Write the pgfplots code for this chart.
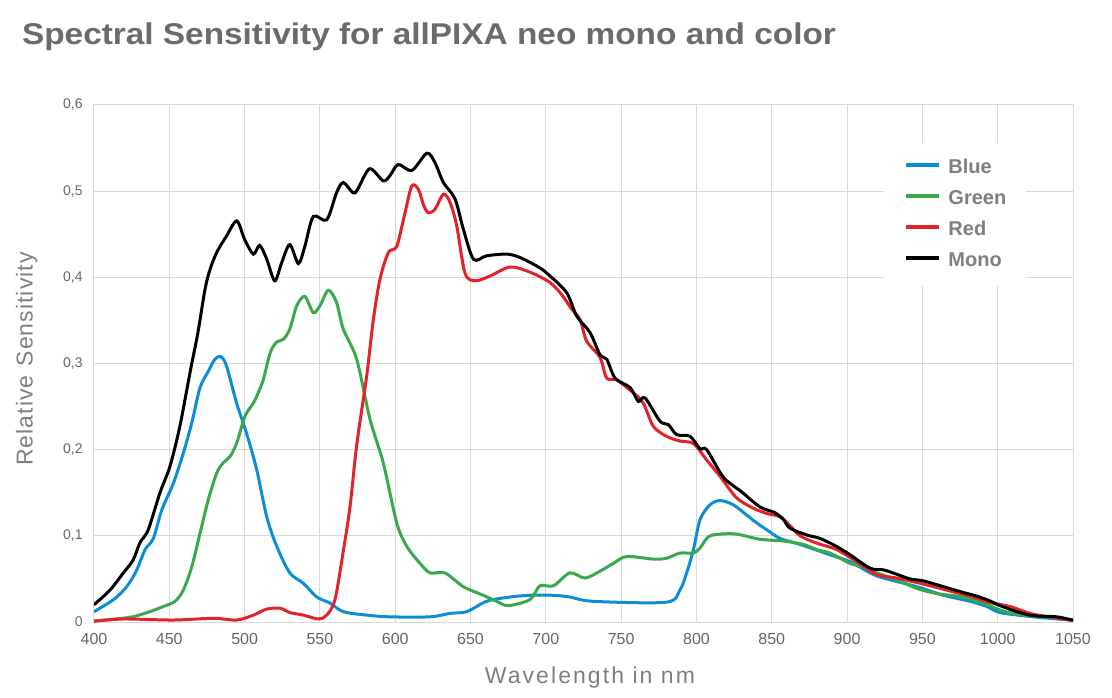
\documentclass[border=0pt]{standalone}
\usepackage{fontspec}
\setmainfont{Liberation Sans}
\newfontfamily\xlabfont[LetterSpace=9]{Liberation Sans}
\newfontfamily\ylabfont[LetterSpace=4.5]{Liberation Sans}
\usepackage{pgfplots}
\pgfplotsset{compat=1.18}
\definecolor{gridc}{HTML}{D9D9D9}
\definecolor{tickc}{HTML}{666666}
\definecolor{labc}{HTML}{7F7F7F}
\definecolor{titlec}{HTML}{6B6B6B}
\definecolor{cblue}{HTML}{0B8ED6}
\definecolor{cgreen}{HTML}{3AA94A}
\definecolor{cred}{HTML}{E52228}
\begin{document}
\begin{tikzpicture}
\useasboundingbox (-47pt,-37.5pt) rectangle (509pt,311pt);
\node[anchor=base west, inner sep=0pt, text=titlec, font=\fontsize{15}{18}\selectfont\bfseries] at (-36.15pt,288.85pt) {\scalebox{1.112}[1]{Spectral Sensitivity for allPIXA neo mono and color}};
\begin{axis}[
  at={(0pt,0pt)}, anchor=south west, scale only axis,
  width=489.5pt, height=258.5pt,
  xmin=400, xmax=1050, ymin=0, ymax=0.6,
  xtick={400,450,500,550,600,650,700,750,800,850,900,950,1000,1050},
  ytick={0,0.1,0.2,0.3,0.4,0.5,0.6},
  grid=major, major grid style={draw=gridc, line width=0.5pt},
  axis line style={draw=gridc, line width=0.5pt},
  major tick length=0pt, tick style={draw=none},
  /pgf/number format/assume math mode=true,
  xticklabel style={/pgf/number format/1000 sep={}, anchor=north, inner sep=0pt, yshift=-5.5pt, font=\fontsize{8}{9}\selectfont, text=tickc},
  yticklabel style={/pgf/number format/fixed, /pgf/number format/precision=1, /pgf/number format/use comma, anchor=east, inner sep=0pt, xshift=-5.5pt, font=\fontsize{7}{8}\selectfont, text=tickc},
  xlabel={\xlabfont Wavelength in nm},
  xlabel style={at={(axis description cs:0.5066,-0.1186)}, anchor=base, font=\fontsize{11.5}{13}\selectfont, text=labc, inner sep=0pt},
  ylabel={\ylabfont Relative\hspace{0.4em}Sensitivity},
  ylabel style={at={(axis description cs:-0.0626,0.5087)}, anchor=base, rotate=0, font=\fontsize{11.5}{13}\selectfont, text=labc, inner sep=0pt},
  legend cell align=left,
  legend style={at={(0.807,0.9265)}, anchor=north west, draw=none, fill=white,
    inner xsep=10pt, inner ysep=7.6pt, row sep=6pt,
    font=\fontsize{10}{12}\selectfont\bfseries, text=labc,
    nodes={inner sep=0pt, text height=7.5pt, text depth=2pt}},
  legend image code/.code={\draw[#1, line width=2pt] (0pt,1.5pt) -- (16.5pt,1.5pt); \path[draw=none] (0pt,0pt) -- (21pt,0pt);},
  every axis plot/.append style={line width=1.5pt, smooth, tension=0.5},
]
\addplot[cblue] coordinates {(400,0.012)(413,0.026)(421.7,0.041)(428.3,0.060)(433.9,0.084)(439.4,0.097)(445,0.130)(452.7,0.161)(459.3,0.196)(464.9,0.231)(470.4,0.272)(475.9,0.291)(480.3,0.305)(484.3,0.308)(488,0.297)(494.7,0.254)(501.3,0.219)(508,0.177)(514.7,0.122)(521.3,0.088)(530,0.057)(539,0.045)(547.9,0.029)(556.7,0.022)(565.5,0.012)(581,0.008)(596.5,0.006)(623,0.006)(636.4,0.010)(647.5,0.012)(660.7,0.024)(676,0.029)(689.5,0.031)(705,0.031)(716,0.029)(731.5,0.024)(780,0.023)(789,0.037)(793.5,0.057)(798,0.084)(802.4,0.119)(809,0.136)(815.7,0.141)(824.5,0.136)(833.4,0.124)(840,0.115)(846.7,0.107)(855.5,0.097)(868.8,0.090)(888.7,0.078)(902,0.070)(917.5,0.055)(928.6,0.049)(946.3,0.041)(964,0.031)(981.7,0.024)(992.8,0.018)(1001.6,0.011)(1023.7,0.006)(1050,0.002)};
\addlegendentry{Blue}
\addplot[cgreen] coordinates {(400,0.001)(424,0.0055)(437,0.012)(446,0.018)(453.8,0.024)(459.3,0.037)(464.9,0.064)(470.4,0.103)(475.9,0.142)(481.5,0.173)(485.9,0.185)(490.3,0.192)(494.8,0.208)(500.3,0.239)(505.8,0.254)(509,0.266)(512.4,0.281)(516.9,0.312)(521.3,0.325)(525.7,0.328)(530,0.340)(534.6,0.367)(540,0.378)(545.6,0.359)(550,0.367)(555.6,0.385)(561,0.371)(565.5,0.340)(574.4,0.305)(583.3,0.235)(592,0.185)(601,0.115)(607.6,0.088)(616.5,0.068)(623.1,0.057)(633,0.057)(645.2,0.041)(658.5,0.031)(667.4,0.024)(675,0.019)(689.5,0.026)(696,0.042)(705,0.042)(716,0.057)(726,0.051)(736,0.059)(744.8,0.068)(753.7,0.076)(771.4,0.073)(780.2,0.074)(789,0.080)(798,0.080)(802.4,0.086)(808,0.099)(815.7,0.102)(826.7,0.102)(842.2,0.096)(857.7,0.094)(871,0.090)(879.9,0.084)(888.7,0.080)(902,0.068)(910.9,0.064)(919.7,0.057)(933,0.049)(946.3,0.039)(959.5,0.033)(977.2,0.029)(990.5,0.022)(1001.6,0.014)(1012.7,0.009)(1035,0.0055)(1050,0.002)};
\addlegendentry{Green}
\addplot[cred] coordinates {(400,0.001)(419.5,0.0035)(452.7,0.0023)(479,0.0043)(494.7,0.0023)(505.8,0.008)(514.7,0.015)(523.5,0.016)(530,0.011)(539,0.008)(549,0.0035)(554.5,0.008)(560,0.026)(565.5,0.082)(570,0.134)(574.4,0.205)(581,0.285)(585.5,0.351)(589.9,0.398)(595.5,0.429)(601,0.436)(606.5,0.475)(611,0.506)(615.4,0.502)(619,0.483)(622,0.475)(626.4,0.479)(632,0.4965)(636.4,0.487)(640.8,0.46)(646.3,0.405)(653,0.396)(663,0.4015)(676.2,0.412)(689.5,0.406)(702.8,0.394)(710.5,0.380)(717.2,0.363)(722.7,0.351)(727.1,0.326)(736,0.307)(740.4,0.283)(747,0.281)(758,0.266)(764.7,0.254)(771.4,0.227)(780.2,0.2155)(789,0.210)(798,0.207)(806.8,0.188)(815.7,0.169)(826.7,0.144)(837.8,0.132)(846.7,0.126)(855.5,0.122)(862,0.112)(868.8,0.100)(879.9,0.0915)(893.1,0.084)(906.4,0.070)(919.7,0.055)(933,0.051)(950.7,0.044)(968.4,0.036)(981.7,0.030)(995,0.0225)(1008.2,0.018)(1023.7,0.009)(1050,0.002)};
\addlegendentry{Red}
\addplot[black] coordinates {(400,0.020)(410.6,0.037)(419.5,0.057)(426,0.072)(430.5,0.092)(436,0.107)(443.8,0.150)(450.5,0.181)(457,0.227)(463.7,0.289)(469,0.336)(473.7,0.386)(477,0.409)(481.5,0.429)(488,0.448)(494.8,0.4655)(500,0.444)(505.8,0.427)(510,0.437)(514.7,0.421)(520,0.396)(524.6,0.417)(530,0.438)(535.7,0.416)(540,0.436)(545.6,0.4705)(554.5,0.4667)(561,0.498)(565.5,0.510)(572,0.498)(575,0.502)(583,0.526)(592,0.512)(596.5,0.518)(602,0.531)(611,0.524)(621,0.544)(626.4,0.533)(632,0.510)(639.7,0.491)(645.2,0.456)(652,0.421)(660.7,0.425)(674,0.427)(682.9,0.423)(696,0.411)(702.8,0.4015)(713.9,0.382)(720.5,0.355)(729.3,0.336)(736,0.310)(740.4,0.305)(746,0.283)(756,0.272)(761.4,0.256)(765.9,0.260)(775.8,0.233)(781.4,0.229)(786.9,0.2174)(795.7,0.2155)(802.4,0.201)(806.8,0.200)(817.9,0.168)(830,0.151)(842.2,0.1335)(852,0.127)(857.7,0.119)(862,0.109)(873.2,0.101)(882,0.097)(893.1,0.0876)(902,0.078)(915.3,0.0624)(924.1,0.0605)(933,0.0554)(941.8,0.050)(950.7,0.0477)(964,0.041)(975,0.0353)(986.1,0.030)(995,0.0244)(1001.6,0.019)(1012.7,0.012)(1023.7,0.0073)(1039.3,0.006)(1050,0.002)};
\addlegendentry{Mono}
\end{axis}
\end{tikzpicture}
\end{document}
